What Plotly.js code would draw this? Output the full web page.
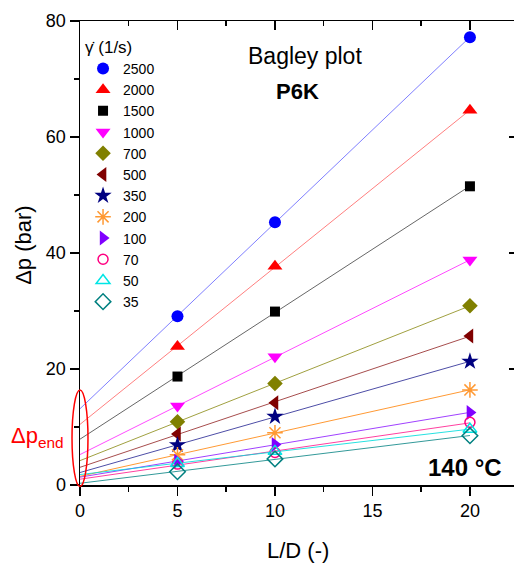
<!DOCTYPE html>
<html>
<head>
<meta charset="utf-8">
<script src="https://cdn.plot.ly/plotly-3.0.1.min.js"></script>
<style>html,body{margin:0;padding:0;background:#fff;}#chart{width:514px;height:563px;}</style>
</head>
<body>
<div id="chart"></div>
<script>
// L/D values of the capillaries
const xLD = [5, 10, 20];
// shear rates (1/s), legend labels
const rates = ['2500', '2000', '1500', '1000', '700', '500', '350', '200', '100', '70', '50', '35'];
// pressure drop Δp (bar) at L/D = 5, 10, 20 for each shear rate
const dp2500 = [29.1, 45.3, 77.2];
const dp2000 = [23.9, 37.7, 64.6];
const dp1500 = [18.7, 29.9, 51.5];
const dp1000 = [13.6, 22.1, 38.8];
const dp700  = [10.9, 17.5, 30.9];
const dp500  = [8.8, 14.2, 25.7];
const dp350  = [6.9, 11.8, 21.3];
const dp200  = [5.2, 9.0, 16.4];
const dp100  = [4.1, 7.0, 12.5];
const dp70   = [3.6, 5.6, 10.8];
const dp50   = [3.7, 5.8, 9.6];
const dp35   = [2.3, 4.5, 8.5];
const seriesValues = [dp2500, dp2000, dp1500, dp1000, dp700, dp500, dp350, dp200, dp100, dp70, dp50, dp35];

// styles
const markerColors = ['#0000ff', '#ff0000', '#000000', '#ff00ff', '#808000', '#800000', '#000080', '#ff9933', '#8000ff', '#ff0080', '#00e5e5', '#008080'];
const lineColors = ['rgba(0,0,255,0.5)', 'rgba(255,0,0,0.5)', 'rgba(0,0,0,0.6)', 'rgba(255,0,255,0.7)', 'rgba(128,128,0,0.75)', 'rgba(128,0,0,0.7)', 'rgba(0,0,128,0.7)', 'rgba(255,128,0,0.8)', 'rgba(128,0,255,0.75)', 'rgba(255,0,128,0.75)', 'rgba(0,220,220,0.85)', 'rgba(0,128,128,0.8)'];
const symbols = ['circle', 'triangle-up', 'square', 'triangle-down', 'diamond', 'triangle-left', 'star', 'asterisk-open', 'triangle-right', 'circle-open', 'triangle-up-open', 'diamond-open'];
const sizes = [12, 13, 10, 13, 12, 13, 13, 13, 13, 10, 12, 12];

function linFit(xs, ys) {
  const n = xs.length;
  const mx = xs.reduce((a, b) => a + b, 0) / n;
  const my = ys.reduce((a, b) => a + b, 0) / n;
  let sxy = 0, sxx = 0;
  for (let i = 0; i < n; i++) { sxy += (xs[i] - mx) * (ys[i] - my); sxx += (xs[i] - mx) * (xs[i] - mx); }
  const slope = sxy / sxx;
  return { slope: slope, intercept: my - slope * mx };
}

const traces = [];
const xFit = [0, Math.max(...xLD)];
seriesValues.forEach((ys, i) => {
  const f = linFit(xLD, ys);
  traces.push({
    x: xFit, y: xFit.map(v => f.intercept + f.slope * v),
    mode: 'lines', line: { color: lineColors[i], width: 1 },
    showlegend: false, hoverinfo: 'skip'
  });
});
seriesValues.forEach((ys, i) => {
  const open = symbols[i].indexOf('open') >= 0;
  traces.push({
    x: xLD, y: ys, name: rates[i], mode: 'markers',
    marker: {
      symbol: symbols[i], size: sizes[i], color: markerColors[i],
      line: { color: markerColors[i], width: open ? 1.5 : 0 }
    },
    cliponaxis: false
  });
});
// helper trace so the mirrored top/right axes are drawn
traces.push({ x: [null], y: [null], xaxis: 'x2', yaxis: 'y2', showlegend: false, hoverinfo: 'skip', mode: 'markers' });

const font = 'Liberation Sans, Arial, sans-serif';
const xr = [0, 22.26];
const yr = [0, 80];
const layout = {
  width: 514, height: 563,
  margin: { l: 80, r: 0, t: 21, b: 78 },
  paper_bgcolor: '#fff', plot_bgcolor: '#fff',
  font: { family: font, color: '#000' },
  showlegend: true,
  legend: {
    x: 0.007, y: 0.979, xanchor: 'left', yanchor: 'top',
    bgcolor: 'rgba(0,0,0,0)', borderwidth: 0,
    font: { family: font, size: 14, color: '#000' },
    title: { text: 'γ̇ (1/s)', font: { family: font, size: 17, color: '#000' } },
    itemclick: false
  },
  xaxis: {
    range: xr, showgrid: false, zeroline: false,
    showline: true, linecolor: '#000', linewidth: 1.5,
    ticks: 'outside', ticklen: 9, tickwidth: 1.5, tickcolor: '#000',
    tick0: 0, dtick: 5,
    minor: { ticks: 'outside', tick0: 0, dtick: 2.5, ticklen: 5, tickwidth: 1.5, tickcolor: '#000', showgrid: false },
    tickfont: { family: font, size: 18, color: '#000' }
  },
  xaxis2: {
    range: xr, overlaying: 'x', side: 'top', showgrid: false, zeroline: false,
    showline: true, linecolor: '#000', linewidth: 1.5,
    ticks: 'inside', ticklen: 9, tickwidth: 1.5, tickcolor: '#000',
    tick0: 0, dtick: 5, showticklabels: false,
    minor: { ticks: 'inside', tick0: 0, dtick: 2.5, ticklen: 5, tickwidth: 1.5, tickcolor: '#000', showgrid: false }
  },
  yaxis: {
    range: yr, showgrid: false, zeroline: false,
    showline: true, linecolor: '#000', linewidth: 1.5,
    ticks: 'outside', ticklen: 9, tickwidth: 1.5, tickcolor: '#000',
    tick0: 0, dtick: 20,
    minor: { ticks: 'outside', tick0: 0, dtick: 10, ticklen: 5, tickwidth: 1.5, tickcolor: '#000', showgrid: false },
    tickfont: { family: font, size: 18, color: '#000' }
  },
  yaxis2: {
    range: yr, overlaying: 'y', side: 'right', showgrid: false, zeroline: false,
    showline: false, ticks: 'inside', ticklen: 5, tickwidth: 1.5, tickcolor: '#000',
    tick0: 0, dtick: 20, showticklabels: false
  },
  annotations: [
    { text: 'L/D (-)', xref: 'paper', yref: 'paper', x: 0.502, y: -0.142, xanchor: 'center', yanchor: 'middle', showarrow: false, font: { family: font, size: 22, color: '#000' } },
    { text: 'Δp (bar)', xref: 'paper', yref: 'paper', x: -0.132, y: 0.517, xanchor: 'center', yanchor: 'middle', textangle: -90, showarrow: false, font: { family: font, size: 22, color: '#000' } },
    { text: 'Bagley plot', xref: 'paper', yref: 'paper', x: 0.518, y: 0.925, xanchor: 'center', yanchor: 'middle', showarrow: false, font: { family: font, size: 23, color: '#000' } },
    { text: '<b>P6K</b>', xref: 'paper', yref: 'paper', x: 0.501, y: 0.848, xanchor: 'center', yanchor: 'middle', showarrow: false, font: { family: font, size: 22, color: '#000' } },
    { text: '<b>140 °C</b>', xref: 'paper', yref: 'paper', x: 0.887, y: 0.038, xanchor: 'center', yanchor: 'middle', showarrow: false, font: { family: font, size: 24, color: '#000' } },
    { text: 'Δp<sub>end</sub>', xref: 'paper', yref: 'paper', x: -0.097, y: 0.103, xanchor: 'center', yanchor: 'middle', showarrow: false, font: { family: font, size: 22, color: '#ff0000' } }
  ],
  shapes: [
    { type: 'circle', xref: 'paper', yref: 'paper', x0: -0.0184, x1: 0.0184, y0: -0.003, y1: 0.205, line: { color: '#ff0000', width: 1.5 }, layer: 'above' }
  ]
};

Plotly.newPlot('chart', traces, layout, { displayModeBar: false, staticPlot: true });
</script>
</body>
</html>
